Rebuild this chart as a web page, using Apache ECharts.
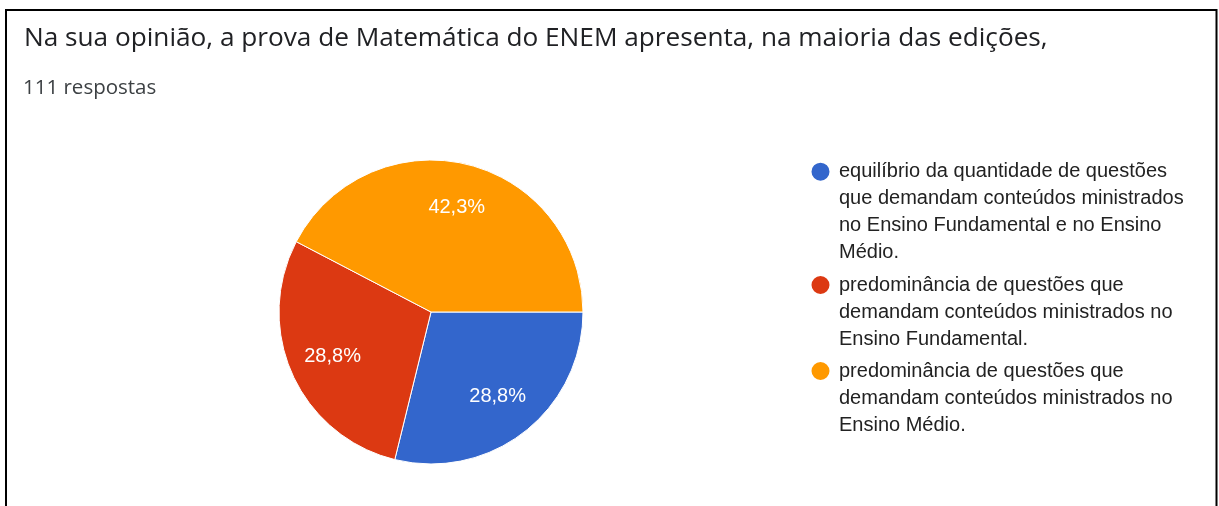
<!DOCTYPE html>
<html>
<head>
<meta charset="utf-8">
<script src="https://cdn.jsdelivr.net/npm/echarts@6/dist/echarts.min.js"></script>
<style>
  html, body { margin: 0; padding: 0; background: #ffffff; }
  #chart { width: 1219px; height: 506px; }
</style>
</head>
<body>
<div id="chart"></div>
<script>
// ---- data ----
const titleText = 'Na sua opinião, a prova de Matemática do ENEM apresenta, na maioria das edições,';
const subtitleText = '111 respostas';
const categories = [
  'equilíbrio da quantidade de questões que demandam conteúdos ministrados no Ensino Fundamental e no Ensino Médio.',
  'predominância de questões que demandam conteúdos ministrados no Ensino Fundamental.',
  'predominância de questões que demandam conteúdos ministrados no Ensino Médio.'
];
const counts = [32, 32, 47];           // 28,8% / 28,8% / 42,3% of 111
const legendLines = [4, 3, 3];         // wrapped line count of each legend entry
const colors = ['#3366CC', '#DC3912', '#FF9900'];

// ---- chart ----
const chart = echarts.init(document.getElementById('chart'), null, { renderer: 'canvas' });
const total = counts.reduce((a, b) => a + b, 0);
const pieData = categories.map((name, i) => ({ name: name, value: counts[i], itemStyle: { color: colors[i] } }));

const LH = 27;
const iconCenters = [170.7, 284, 370];
// legend marker: circle aligned with the first text line, box as tall as the text block
function markerPath(n) {
  const h = n * LH, cy = LH / 2, cx = 11.5, r = 10;
  return 'path://M0,0 M25,' + h +
    ' M' + (cx + r) + ',' + cy +
    ' A' + r + ',' + r + ' 0 1,1 ' + (cx - r) + ',' + cy +
    ' A' + r + ',' + r + ' 0 1,1 ' + (cx + r) + ',' + cy + ' Z';
}
const legends = categories.map((name, i) => {
  const n = legendLines[i];
  return {
    orient: 'vertical',
    left: 808,
    top: iconCenters[i] - LH / 2,
    padding: 0,
    itemWidth: 25,
    itemHeight: n * LH,
    icon: markerPath(n),
    selectedMode: false,
    data: [name],
    textStyle: {
      fontFamily: 'Liberation Sans, Arial, sans-serif',
      fontSize: 20,
      color: '#222222',
      lineHeight: LH,
      width: 361,
      overflow: 'break'
    }
  };
});

const option = {
  backgroundColor: '#ffffff',
  animation: false,
  title: [
    {
      text: titleText,
      left: 24,
      top: 26,
      padding: 0,
      textStyle: { fontFamily: 'Open Sans, sans-serif', fontSize: 26.2, fontWeight: 'normal', color: '#202124' }
    },
    {
      text: subtitleText,
      left: 23,
      top: 78,
      padding: 0,
      textStyle: { fontFamily: 'Open Sans, sans-serif', fontSize: 20.5, fontWeight: 'normal', color: '#3c4043' }
    }
  ],
  legend: legends,
  graphic: [
    {
      type: 'rect',
      silent: true,
      shape: { x: 6, y: 10, width: 1210.5, height: 600 },
      style: { fill: 'none', stroke: '#000000', lineWidth: 2 }
    }
  ],
  series: [
    {
      type: 'pie',
      center: [431, 312],
      radius: [0, 152],
      startAngle: 0,
      clockwise: true,
      avoidLabelOverlap: false,
      label: { show: false },
      labelLine: { show: false },
      itemStyle: { borderColor: '#ffffff', borderWidth: 1 },
      emphasis: { disabled: true },
      data: pieData
    },
    {
      type: 'pie',
      silent: true,
      center: [431, 312],
      radius: [58, 152],
      startAngle: 0,
      clockwise: true,
      avoidLabelOverlap: false,
      itemStyle: { color: 'rgba(0,0,0,0)' },
      label: {
        show: true,
        position: 'inside',
        color: '#ffffff',
        fontFamily: 'Liberation Sans, Arial, sans-serif',
        fontSize: 20,
        formatter: p => (p.value / total * 100).toFixed(1).replace('.', ',') + '%'
      },
      labelLine: { show: false },
      emphasis: { disabled: true },
      data: categories.map((name, i) => ({ name: name, value: counts[i] }))
    }
  ]
};
chart.setOption(option);
</script>
</body>
</html>
